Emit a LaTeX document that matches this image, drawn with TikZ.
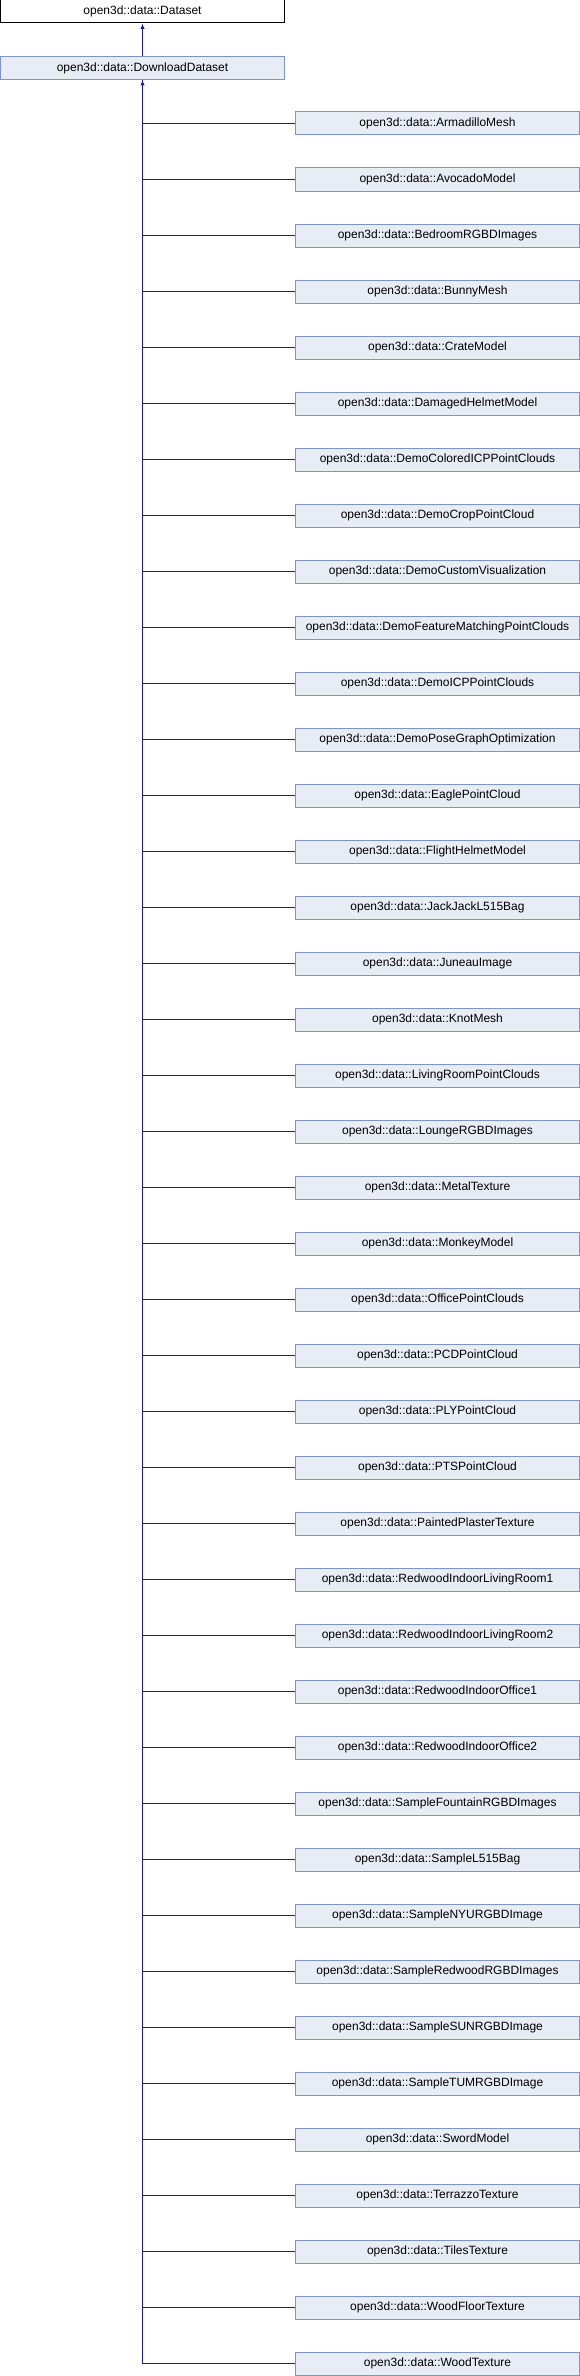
\documentclass[tikz,border=0pt]{standalone}
\usepackage{fontspec}
\setmainfont{Liberation Sans}
\usetikzlibrary{arrows.meta}
\definecolor{edgeblue}{HTML}{1C1C9C}
\definecolor{boxfill}{HTML}{E8ECF5}
\definecolor{boxline}{HTML}{7C93CB}
\begin{document}
\begin{tikzpicture}[x=0.75pt,y=-0.75pt,
  cls/.style={draw=boxline,fill=boxfill,line width=0.75pt,minimum width=213pt,minimum height=17.25pt,inner sep=0pt,font=\fontsize{9}{10}\selectfont},
  rootcls/.style={cls,draw=black,fill=white},
  edge/.style={draw=edgeblue,line width=0.75pt},
  tip/.style={-{Latex[length=4pt,width=3.2pt]}}]
\useasboundingbox (0,0) rectangle (580,2376);
\node[rootcls] (ds) at (142.5,11.5) {open3d::data::Dataset};
\node[cls] (dd) at (142.5,68) {open3d::data::DownloadDataset};
\draw[edge,tip] (dd.north) -- (ds.south);
\foreach \name [count=\i from 0] in {ArmadilloMesh,AvocadoModel,BedroomRGBDImages,BunnyMesh,CrateModel,DamagedHelmetModel,DemoColoredICPPointClouds,DemoCropPointCloud,DemoCustomVisualization,DemoFeatureMatchingPointClouds,DemoICPPointClouds,DemoPoseGraphOptimization,EaglePointCloud,FlightHelmetModel,JackJackL515Bag,JuneauImage,KnotMesh,LivingRoomPointClouds,LoungeRGBDImages,MetalTexture,MonkeyModel,OfficePointClouds,PCDPointCloud,PLYPointCloud,PTSPointCloud,PaintedPlasterTexture,RedwoodIndoorLivingRoom1,RedwoodIndoorLivingRoom2,RedwoodIndoorOffice1,RedwoodIndoorOffice2,SampleFountainRGBDImages,SampleL515Bag,SampleNYURGBDImage,SampleRedwoodRGBDImages,SampleSUNRGBDImage,SampleTUMRGBDImage,SwordModel,TerrazzoTexture,TilesTexture,WoodFloorTexture,WoodTexture}{
  \node[cls] (c\i) at (437.5,{123.5+56*\i}) {open3d::data::\name};
  \draw[edge] (c\i.west) -| (dd.south);
}
\draw[edge,tip] (c40.west) -| (dd.south);
\end{tikzpicture}
\end{document}
